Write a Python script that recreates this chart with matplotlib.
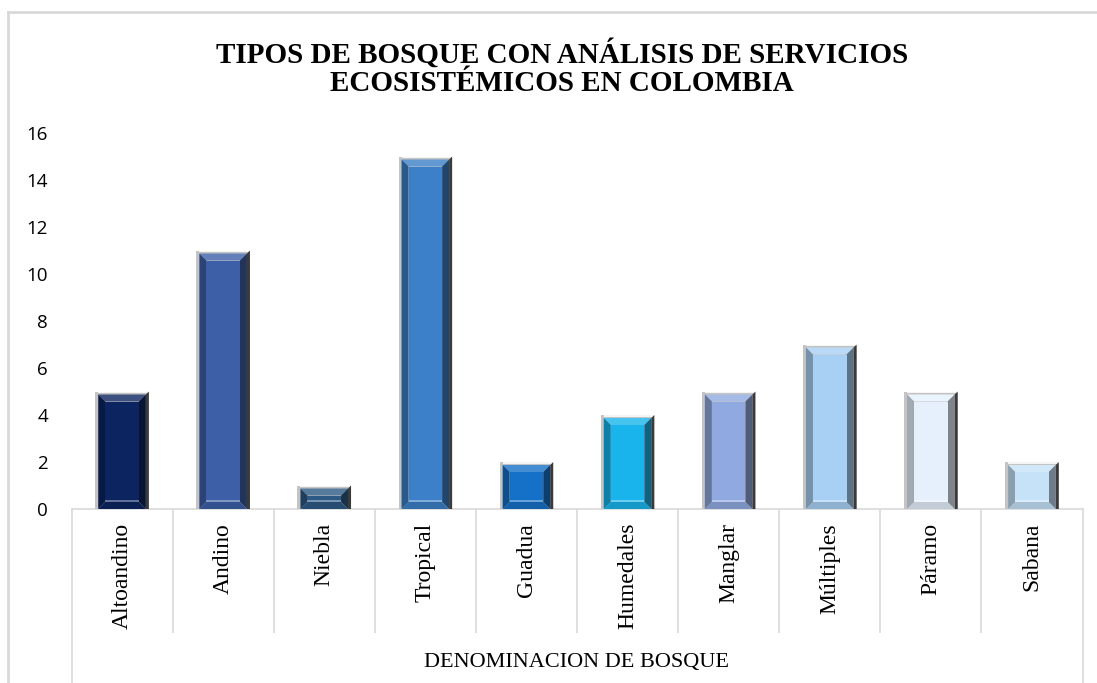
## Bar chart of forest types with ecosystem service studies in Colombia (beveled bars)

import matplotlib.pyplot as plt
import numpy as np
from matplotlib.patches import Polygon
from matplotlib.lines import Line2D
from matplotlib.colors import to_rgb

tipos = ['Altoandino', 'Andino', 'Niebla', 'Tropical', 'Guadua',
         'Humedales', 'Manglar', 'Múltiples', 'Páramo', 'Sabana']
cantidad = [5, 11, 1, 15, 2, 4, 5, 7, 5, 2]
colores = ['#0c2560', '#3d5fa8', '#2d5a85', '#3b80c8', '#1570c8',
           '#19b4ec', '#90a9e0', '#a8d0f4', '#e6f0fc', '#c6e2f8']
yticks = [0, 2, 4, 6, 8, 10, 12, 14, 16]

titulo = 'TIPOS DE BOSQUE CON ANÁLISIS DE SERVICIOS\nECOSISTÉMICOS EN COLOMBIA'
eje_x = 'DENOMINACION DE BOSQUE'

W, H = 1097, 683
fig = plt.figure(figsize=(W / 100, H / 100), dpi=100)
ax = fig.add_axes([71.5 / W, 174 / H, 1011 / W, 376 / H])

x = np.arange(len(tipos))
bars = ax.bar(x, cantidad, width=0.53, color=colores, zorder=2)
ax.set_xlim(-0.5, len(tipos) - 0.5)
ax.set_ylim(0, 16)


def mezcla(c, otro, t):
    c = np.array(to_rgb(c))
    return tuple(c * (1 - t) + np.array(otro) * t)


## bevel effect: px -> data units
px_x = (len(tipos)) / 1011.0
px_y = 16 / 376.0
ox, oy = 3 * px_x, 3 * px_y
bx, by = 7 * px_x, 7 * px_y

for b, c in zip(bars, colores):
    x0, w, h = b.get_x(), b.get_width(), b.get_height()
    x1 = x0 + w
    # outer frame: light on left/top, dark on right
    ax.add_patch(Polygon([(x0, 0), (x0, h), (x1, h), (x1, 0)],
                         closed=True, fc='#c4c4c4', ec='none', zorder=3))
    ax.add_patch(Polygon([(x0 + ox, h - oy * 0.5), (x1, h - oy * 0.5), (x1, h), (x0 + ox, h)],
                         closed=True, fc='#f4f4f4', ec='none', zorder=3))
    ax.add_patch(Polygon([(x1 - ox, 0), (x1, 0), (x1, h), (x1 - ox, h - oy)],
                         closed=True, fc='#3a3a3a', ec='none', zorder=3))
    # inner bevel
    ix0, ix1, itop = x0 + ox, x1 - ox, h - oy
    fx0, fx1, fy0, fy1 = ix0 + bx, ix1 - bx, by, itop - by
    ax.add_patch(Polygon([(ix0, itop), (ix1, itop), (fx1, fy1), (fx0, fy1)],
                         closed=True, fc=mezcla(c, (1, 1, 1), 0.2), ec='none', zorder=4))
    ax.add_patch(Polygon([(ix0, 0), (ix0, itop), (fx0, fy1), (fx0, fy0)],
                         closed=True, fc=mezcla(c, (0, 0, 0), 0.3), ec='none', zorder=4))
    ax.add_patch(Polygon([(ix1, 0), (ix1, itop), (fx1, fy1), (fx1, fy0)],
                         closed=True, fc=mezcla(c, (0, 0, 0), 0.45), ec='none', zorder=4))
    ax.add_patch(Polygon([(ix0, 0), (ix1, 0), (fx1, fy0), (fx0, fy0)],
                         closed=True, fc=mezcla(c, (0, 0, 0), 0.15), ec='none', zorder=4))
    ax.add_patch(Polygon([(fx0, fy0), (fx1, fy0), (fx1, fy1), (fx0, fy1)],
                         closed=True, fc=c, ec='none', zorder=5))
    ax.add_patch(Polygon([(fx0, fy0), (fx1, fy0), (fx1, fy0 + 2 * px_y), (fx0, fy0 + 2 * px_y)],
                         closed=True, fc=mezcla(c, (1, 1, 1), 0.35), ec='none', zorder=6))

for s in ['top', 'right', 'left']:
    ax.spines[s].set_visible(False)
ax.spines['bottom'].set_color('#d9d9d9')
ax.spines['bottom'].set_linewidth(1.2)

ax.set_yticks(yticks)
ax.set_yticklabels([str(v) for v in yticks], fontsize=13.5, family='Open Sans')
ax.tick_params(axis='y', length=0, pad=17)

ax.set_xticks(x)
ax.set_xticklabels(tipos, rotation=90, fontsize=17, family='Liberation Serif', va='top')
ax.set_xticks(np.arange(0.5, len(tipos) - 1, 1), minor=True)
ax.tick_params(axis='x', which='major', length=0, pad=10)
ax.tick_params(axis='x', which='minor', length=89, color='#d9d9d9', width=1.2)

## outer group lines reaching the bottom
for xe in [-0.5, len(tipos) - 0.5]:
    ax.add_line(Line2D([xe, xe], [0, -10], color='#d9d9d9', lw=1.2, clip_on=False))

## chart area border
fig.add_artist(Line2D([8 / W, 8 / W], [0, 1 - 12 / H], color='#d9d9d9', lw=2))
fig.add_artist(Line2D([8 / W, 1], [1 - 12 / H, 1 - 12 / H], color='#d9d9d9', lw=2))

fig.text(562 / W, 1 - 68 / H, titulo, ha='center', va='center', fontsize=21,
         fontweight='bold', family='Liberation Serif', linespacing=1.05)
fig.text(576 / W, 1 - 663 / H, eje_x, ha='center', va='center', fontsize=16,
         family='Liberation Serif')

plt.savefig('out.png', dpi=100)
